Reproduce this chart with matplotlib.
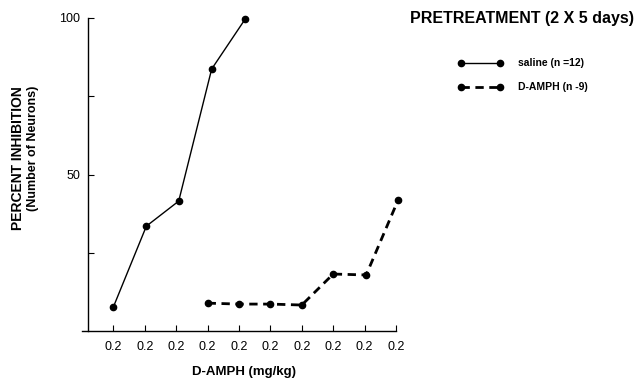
import matplotlib.pyplot as plt

plt.rcParams['font.family'] = ['Liberation Sans', 'DejaVu Sans']

# dose positions (all labelled 0.2 on the original axis)
tick_pos = [1, 2, 3, 4, 5, 6, 7, 8, 9, 10]
tick_labels = ['0.2'] * 10

saline_x = [1.0, 2.05, 3.08, 4.13, 5.2]
saline_y = [7.7, 33.5, 41.5, 83.7, 99.7]

damph_x = [4.0, 5.0, 6.0, 7.0, 8.0, 9.05, 10.07]
damph_y = [8.9, 8.6, 8.6, 8.3, 18.2, 17.9, 41.9]

fig = plt.figure(figsize=(6.42, 3.81), dpi=100)
ax = fig.add_axes([82 / 642, 1 - 331 / 381, (396 - 82) / 642, (331 - 18) / 381])

l1, = ax.plot(saline_x, saline_y, '-', color='black', lw=1.0, marker='o', ms=4.5, clip_on=False)
l2, = ax.plot(damph_x, damph_y, '--', color='black', lw=2.0, dashes=(3, 2), marker='o', ms=4.5, clip_on=False)

ax.set_xlim(0, 10)
ax.set_ylim(0, 100)
ax.spines['top'].set_visible(False)
ax.spines['right'].set_visible(False)
ax.spines['left'].set_position(('data', 0.2))
ax.spines['left'].set_linewidth(1.0)
ax.spines['bottom'].set_linewidth(1.0)

ax.set_xticks(tick_pos)
ax.set_xticklabels(tick_labels, fontsize=9)
ax.set_yticks([50, 100])
ax.set_yticklabels(['50', '100'], fontsize=9)
ax.set_yticks([25, 75], minor=True)
ax.tick_params(axis='both', which='both', direction='in', length=4, width=0.8)
ax.tick_params(axis='x', pad=7)
ax.tick_params(axis='y', pad=6)

fig.text(244 / 642, 1 - 372 / 381, 'D-AMPH (mg/kg)', fontsize=9.5, fontweight='bold',
         ha='center', va='center')
fig.text(18 / 642, 1 - 158 / 381, 'PERCENT INHIBITION', rotation=90, fontsize=10,
         fontweight='bold', ha='center', va='center')
fig.text(33 / 642, 1 - 148 / 381, '(Number of Neurons)', rotation=90, fontsize=9,
         fontweight='bold', ha='center', va='center')

fig.text(410 / 642, 1 - 18 / 381, 'PRETREATMENT (2 X 5 days)', fontsize=11.5,
         fontweight='bold', ha='left', va='center')
fig.legend([l1, l2], ['saline (n =12)', 'D-AMPH (n -9)'], loc='upper left',
           bbox_to_anchor=(448 / 642, 1 - 49 / 381), frameon=False, numpoints=2,
           handlelength=4.4, handletextpad=1.4, labelspacing=1.35,
           prop={'size': 7.5, 'weight': 'bold'})

fig.savefig('out.png', dpi=100)
